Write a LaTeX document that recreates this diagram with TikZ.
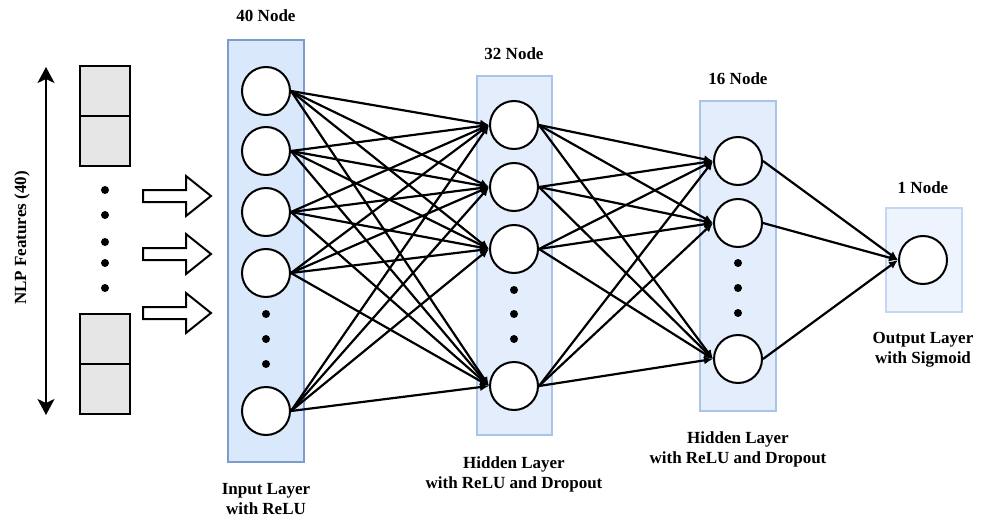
\documentclass[tikz,border=0pt]{standalone}
\usepackage{fontspec}
\setmainfont{Liberation Serif}
\usetikzlibrary{arrows.meta}
\definecolor{boxA}{HTML}{DAE8FC}
\definecolor{lineA}{HTML}{7C9CCB}
\definecolor{boxB}{HTML}{E3EDFC}
\definecolor{lineB}{HTML}{A9C4EB}
\definecolor{boxC}{HTML}{EEF4FD}
\definecolor{lineC}{HTML}{C3D6F2}
\definecolor{cellgray}{HTML}{E6E6E6}
\begin{document}
\begin{tikzpicture}[x=1pt,y=-1pt,
  neuron/.style={circle,draw=black,line width=2pt,fill=white,minimum size=48pt,inner sep=0pt},
  dotn/.style={circle,fill=black,minimum size=8pt,inner sep=0pt},
  lbl/.style={font=\bfseries\fontsize{17}{20}\selectfont,align=center},
  conn/.style={line width=2.2pt,-{Latex[length=9pt,width=8pt]}},
  cell/.style={draw=black,line width=2pt,fill=cellgray,minimum width=50pt,minimum height=50pt,inner sep=0pt},
  layerbox/.style={line width=2pt,inner sep=0pt},
  bigarrow/.style={draw=black,line width=2pt,fill=white,line join=miter}
]
\useasboundingbox (0,0) rectangle (988,519);
% layer boxes
\node[layerbox,draw=lineA,fill=boxA,minimum width=76pt,minimum height=422pt] (boxA) at (266,251) {};
\node[layerbox,draw=lineB,fill=boxB,minimum width=75pt,minimum height=359pt] (boxB) at (514.5,255.5) {};
\node[layerbox,draw=lineB,fill=boxB,minimum width=76pt,minimum height=310pt] (boxC) at (738,256) {};
\node[layerbox,draw=lineC,fill=boxC,minimum width=76pt,minimum height=104pt] (boxD) at (924,260) {};
% input layer neurons
\node[neuron] (a1) at (266,91) {};
\node[neuron] (a2) at (266,151) {};
\node[neuron] (a3) at (266,212) {};
\node[neuron] (a4) at (266,273) {};
\node[neuron] (a5) at (266,411) {};
\node[dotn] (ad1) at (266,314) {};
\node[dotn] (ad2) at (266,339) {};
\node[dotn] (ad3) at (266,364) {};
% hidden layer 1
\node[neuron] (b1) at (514,125) {};
\node[neuron] (b2) at (514,187) {};
\node[neuron] (b3) at (514,249) {};
\node[neuron] (b4) at (514,386) {};
\node[dotn] (bd1) at (514,290) {};
\node[dotn] (bd2) at (514,314) {};
\node[dotn] (bd3) at (514,339) {};
% hidden layer 2
\node[neuron] (c1) at (738,161) {};
\node[neuron] (c2) at (738,223) {};
\node[neuron] (c3) at (738,359) {};
\node[dotn] (cd1) at (738,263) {};
\node[dotn] (cd2) at (738,288) {};
\node[dotn] (cd3) at (738,313) {};
% output
\node[neuron] (d1) at (923,260) {};
% connections
\foreach \i in {1,...,5}{\foreach \j in {1,...,4}{\draw[conn] (a\i.east) -- (b\j.west);}}
\foreach \i in {1,...,4}{\foreach \j in {1,...,3}{\draw[conn] (b\i.east) -- (c\j.west);}}
\foreach \i in {1,...,3}{\draw[conn] (c\i.east) -- (d1.west);}
% labels
\node[lbl] (t1) at (266,16) {40 Node};
\node[lbl] (t2) at (514,54) {32 Node};
\node[lbl] (t3) at (738,79) {16 Node};
\node[lbl] (t4) at (923,188) {1 Node};
\node[lbl] (l1) at (266,499) {Input Layer\\with ReLU};
\node[lbl] (l2) at (514,474) {Hidden Layer\\with ReLU and Dropout};
\node[lbl] (l3) at (738,449) {Hidden Layer\\with ReLU and Dropout};
\node[lbl] (l4) at (923,350) {Output Layer\\with Sigmoid};
% left side
\coordinate (up) at (46,67);
\coordinate (dn) at (46,415);
\draw[line width=2pt,{Stealth[length=16pt,width=17pt,inset=4pt]}-{Stealth[length=16pt,width=17pt,inset=4pt]}] (up) -- (dn);
\node[lbl,rotate=90] (nlp) at (22,238) {NLP Features (40)};
\node[cell] (r1) at (105,91) {};
\node[cell] (r2) at (105,141) {};
\node[cell] (r3) at (105,339) {};
\node[cell] (r4) at (105,389) {};
\node[dotn] (ld1) at (105,190) {};
\node[dotn] (ld2) at (105,215) {};
\node[dotn] (ld3) at (105,242) {};
\node[dotn] (ld4) at (105,263) {};
\node[dotn] (ld5) at (105,288) {};
\foreach \yy in {196,254,313}{
  \draw[bigarrow,shift={(143,\yy)}] (0,-6) -- (43,-6) -- (43,-20) -- (68,0) -- (43,20) -- (43,6) -- (0,6) -- cycle;
}
\end{tikzpicture}
\end{document}
